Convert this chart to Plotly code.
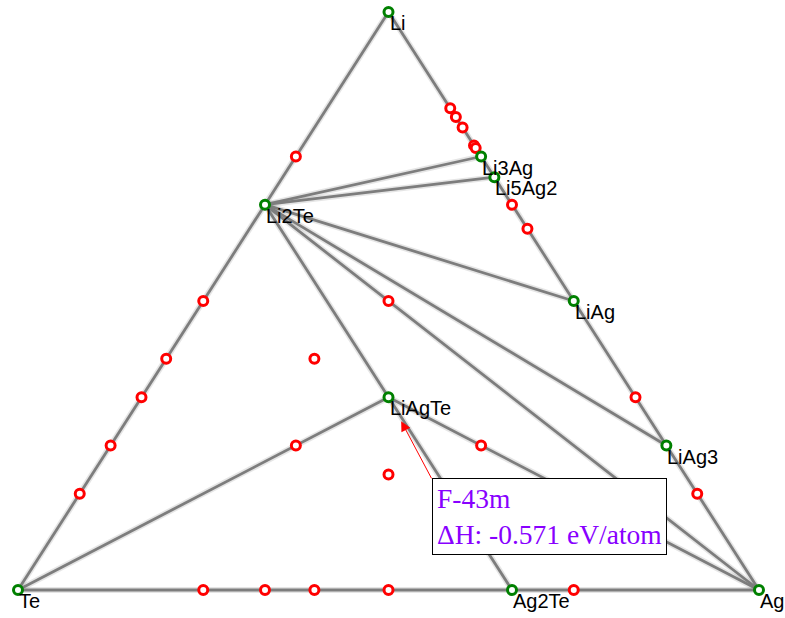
import math
import plotly.graph_objects as go

# ---------------- data ----------------
# compositions as atom counts (Li, Ag, Te)
stable_names = ["Li", "Li3Ag", "Li5Ag2", "LiAg", "LiAg3", "Ag", "Ag2Te", "Te", "Li2Te", "LiAgTe"]
stable_li = [1, 3, 5, 1, 1, 0, 0, 0, 2, 1]
stable_ag = [0, 1, 2, 1, 3, 1, 2, 0, 0, 1]
stable_te = [0, 0, 0, 0, 0, 0, 1, 1, 1, 1]

unstable_names = ["Li5Ag", "Li9Ag2", "Li4Ag", "Li10Ag3", "Li13Ag4", "Li2Ag", "Li5Ag3", "LiAg2", "LiAg5",
                  "Li3Te", "LiTe", "Li2Te3", "LiTe2", "LiTe3", "LiTe5",
                  "Li2AgTe", "Li2AgTe2", "LiAgTe2", "LiAg2Te2", "LiAg2Te",
                  "AgTe3", "AgTe2", "Ag2Te3", "AgTe", "Ag3Te"]
unstable_li = [5, 9, 4, 10, 13, 2, 5, 1, 1, 3, 1, 2, 1, 1, 1, 2, 2, 1, 1, 1, 0, 0, 0, 0, 0]
unstable_ag = [1, 2, 1, 3, 4, 1, 3, 2, 5, 0, 0, 0, 0, 0, 0, 1, 1, 1, 2, 2, 1, 1, 2, 1, 3]
unstable_te = [0, 0, 0, 0, 0, 0, 0, 0, 0, 1, 1, 3, 2, 3, 5, 1, 2, 2, 2, 1, 3, 2, 3, 1, 1]

# tie lines (hull facet edges) between stable phases
tie_lines = [
    ("Te", "Li2Te"), ("Li2Te", "Li"),
    ("Li", "Li3Ag"), ("Li3Ag", "Li5Ag2"), ("Li5Ag2", "LiAg"), ("LiAg", "LiAg3"), ("LiAg3", "Ag"),
    ("Te", "Ag2Te"), ("Ag2Te", "Ag"),
    ("Li2Te", "Li3Ag"), ("Li2Te", "Li5Ag2"), ("Li2Te", "LiAg"), ("Li2Te", "LiAg3"), ("Li2Te", "Ag"),
    ("Li2Te", "LiAgTe"), ("Te", "LiAgTe"), ("LiAgTe", "Ag2Te"), ("LiAgTe", "Ag"),
]

hover_name = "LiAgTe"
hover_text = "F-43m<br>ΔH: -0.571 eV/atom"

# ---------------- helpers ----------------
H = math.sqrt(3) / 2


def to_xy(li, ag, te):
    tot = li + ag + te
    fli, fag = li / tot, ag / tot
    return fag + 0.5 * fli, fli * H


stable_xy = {n: to_xy(a, b, c) for n, a, b, c in zip(stable_names, stable_li, stable_ag, stable_te)}
unst_xy = [to_xy(a, b, c) for a, b, c in zip(unstable_li, unstable_ag, unstable_te)]

lx, ly = [], []
for a, b in tie_lines:
    lx += [stable_xy[a][0], stable_xy[b][0], None]
    ly += [stable_xy[a][1], stable_xy[b][1], None]

fig = go.Figure()
fig.add_trace(go.Scatter(x=lx, y=ly, mode="lines", hoverinfo="skip",
                         line=dict(color="rgba(0,0,0,0.10)", width=6), showlegend=False))
fig.add_trace(go.Scatter(x=lx, y=ly, mode="lines", hoverinfo="skip",
                         line=dict(color="rgb(125,125,125)", width=2.8), showlegend=False))
fig.add_trace(go.Scatter(x=[p[0] for p in unst_xy], y=[p[1] for p in unst_xy], mode="markers",
                         text=unstable_names, showlegend=False,
                         marker=dict(symbol="circle", size=9, color="white",
                                     line=dict(color="red", width=3))))
fig.add_trace(go.Scatter(x=[stable_xy[n][0] for n in stable_names], y=[stable_xy[n][1] for n in stable_names],
                         mode="markers", text=stable_names, showlegend=False,
                         marker=dict(symbol="circle", size=9, color="white",
                                     line=dict(color="green", width=3))))

annotations = []
for n in stable_names:
    x, y = stable_xy[n]
    annotations.append(dict(x=x, y=y, xref="x", yref="y", text=n, showarrow=False,
                            xanchor="left", yanchor="top", borderpad=0, yshift=1,
                            font=dict(family="Liberation Sans, Arial", size=20, color="black")))

hx, hy = stable_xy[hover_name]
annotations.append(dict(x=hx, y=hy, xref="x", yref="y", text=hover_text, showarrow=True,
                        ax=43, ay=81, xanchor="left", yanchor="top", align="left",
                        arrowcolor="red", arrowhead=2, arrowwidth=1, arrowsize=2, standoff=27,
                        bordercolor="black", borderwidth=1, borderpad=4, bgcolor="white",
                        font=dict(family="Liberation Serif, Times New Roman", size=27.5,
                                  color="rgb(136,0,255)")))

# figure fills the whole 785x618 window (page margin removed below)
W, HT = 785, 618
fig.update_layout(
    width=W, height=HT, autosize=False,
    margin=dict(l=0, r=0, t=0, b=0),
    paper_bgcolor="white", plot_bgcolor="white",
    xaxis=dict(visible=False, range=[-18 / 741, (W - 18) / 741], fixedrange=True),
    yaxis=dict(visible=False, range=[-(HT - 590) * H / 578, H + 12 * H / 578], fixedrange=True),
    annotations=annotations,
    hovermode=False,
)

fig.write_html(
    "out.html",
    config={"displayModeBar": False},
    post_script=("document.body.style.margin='0';document.body.style.overflow='hidden';"
                 "document.documentElement.style.overflow='hidden';"),
)
